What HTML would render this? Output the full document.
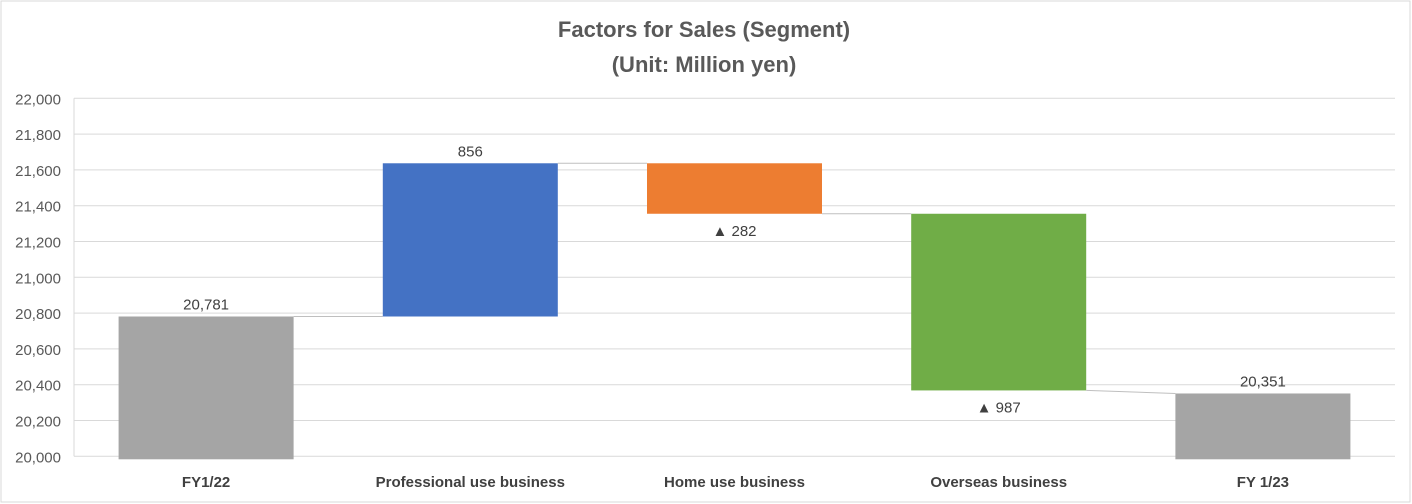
<!DOCTYPE html>
<html><head><meta charset="utf-8"><style>
body{margin:0;background:#fff;font-family:"Liberation Sans",sans-serif}
svg{display:block}
</style></head><body>
<svg id="c" width="1412" height="504">
<rect x="1" y="1" width="1409" height="501" fill="#fff" stroke="#d9d9d9"/>
<text x="704" y="37" text-anchor="middle" font-size="22" font-weight="bold" fill="#595959">Factors for Sales (Segment)</text>
<text x="704" y="72" text-anchor="middle" font-size="22" font-weight="bold" fill="#595959">(Unit: Million yen)</text>
</svg>
<script>
const categories=["FY1/22","Professional use business","Home use business","Overseas business","FY 1/23"];
const startValue=20781;
const deltas=[856,-282,-987];
const endValue=20351;
const labels=["20,781","856","▲ 282","▲ 987","20,351"];
const yTicks=[20000,20200,20400,20600,20800,21000,21200,21400,21600,21800,22000];
const colors=["#a5a5a5","#4472c4","#ed7d31","#70ad47","#a5a5a5"];
const svg=document.getElementById('c');const NS="http://www.w3.org/2000/svg";
const L=74,R=1395,T=98.3,B=456.3,ymin=20000,ymax=22000;
const y=v=>B-(v-ymin)/(ymax-ymin)*(B-T);
const band=(R-L)/categories.length;const bw=175;
const xc=i=>L+band*(i+0.5);
function mk(t,a){const e=document.createElementNS(NS,t);for(const k in a)e.setAttribute(k,a[k]);svg.appendChild(e);return e;}
yTicks.forEach(v=>{
 const g=mk('line',{x1:L,x2:R,y1:y(v),y2:y(v),stroke:'#d9d9d9','stroke-width':1});
 
 
 const t=mk('text',{x:61,y:y(v)+6,'text-anchor':'end','font-size':15,fill:'#595959'});
 t.textContent=v.toLocaleString('en-US');
 
 
});
const vl=mk('line',{x1:L,x2:L,y1:T,y2:B,stroke:'#d9d9d9'});


// compute segments
const segs=[];let cur=startValue;
segs.push([ymin,startValue]);
deltas.forEach(d=>{segs.push([cur,cur+d]);cur+=d;});
segs.push([ymin,endValue]);
segs.forEach((s,i)=>{
 const lo=Math.min(s[0],s[1]),hi=Math.max(s[0],s[1]);
 const bot=(i===0||i===segs.length-1)?B+3:y(lo);
 const r=mk('rect',{x:xc(i)-bw/2,y:y(hi),width:bw,height:bot-y(hi),fill:colors[i]});
 
 
 const neg=i>0&&i<segs.length-1&&s[1]<s[0];
 const ty=neg?y(lo)+22:y(hi)-7;
 const t=mk('text',{x:xc(i),y:ty,'text-anchor':'middle','font-size':15,fill:'#404040'});
 t.textContent=labels[i];
 
 
 const c=mk('text',{x:xc(i),y:487,'text-anchor':'middle','font-size':15,'font-weight':'bold',fill:'#404040'});
 c.textContent=categories[i];
 
 
 if(i<segs.length-1){
  const nv=s[1];const nx=segs[i+1];
  const ny=(i+1===segs.length-1)?endValue:nx[0];
  const ln=mk('line',{x1:xc(i)+bw/2,y1:y(nv),x2:xc(i+1)-bw/2,y2:y(ny),stroke:'#bfbfbf','stroke-width':1});
  
  
 }
});
</script>
</body></html>
